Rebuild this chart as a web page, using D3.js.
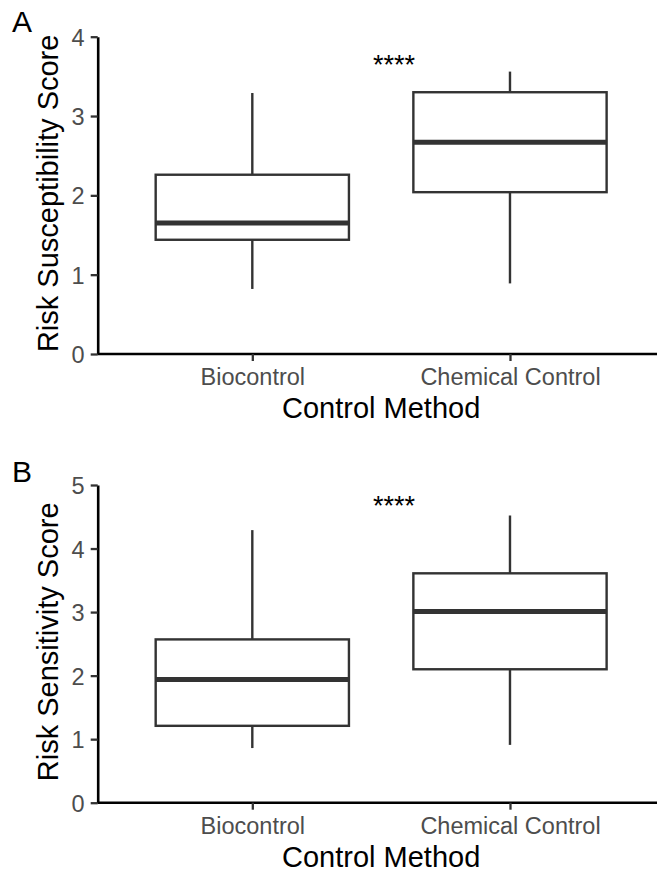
<!DOCTYPE html>
<html>
<head>
<meta charset="utf-8">
<script src="https://cdn.jsdelivr.net/npm/d3@7"></script>
<style>
  html, body { margin: 0; padding: 0; background: #fff; }
  svg { display: block; }
  text { font-family: "Liberation Sans", Arial, Helvetica, sans-serif; }
</style>
</head>
<body>
<svg id="chart" width="657" height="878"></svg>
<script>
// ---- Data ----
const categories = ["Biocontrol", "Chemical Control"];

// Panel A: Risk Susceptibility Score
const suscMin    = [0.82, 0.89];
const suscQ1     = [1.44, 2.04];
const suscMedian = [1.65, 2.67];
const suscQ3     = [2.26, 3.30];
const suscMax    = [3.29, 3.56];
const suscTicks  = [0, 1, 2, 3, 4];

// Panel B: Risk Sensitivity Score
const sensMin    = [0.86, 0.91];
const sensQ1     = [1.21, 2.10];
const sensMedian = [1.94, 3.01];
const sensQ3     = [2.57, 3.61];
const sensMax    = [4.29, 4.52];
const sensTicks  = [0, 1, 2, 3, 4, 5];

const sigLabel = "****";
const sigA = {x: 1.55, y: 3.53};
const sigB = {x: 1.55, y: 4.53};

const xTitle = "Control Method";

// ---- Drawing ----
const svg = d3.select("#chart");
const left = 97.7, rightRange = 664.6;

function panel(cfg) {
  const g = svg.append("g");
  const x = d3.scalePoint().domain(categories).range([left, rightRange]).padding(0.6);
  const y = d3.scaleLinear().domain([0, d3.max(cfg.ticks)]).range([cfg.bottom, cfg.top]);
  const step = x.step();
  const bw = step * 0.75;

  const rows = categories.map((c, i) => ({
    c, min: cfg.min[i], q1: cfg.q1[i], med: cfg.med[i], q3: cfg.q3[i], max: cfg.max[i]
  }));

  const boxes = g.selectAll("g.box").data(rows).join("g").attr("class", "box");
  boxes.append("line")
    .attr("x1", d => x(d.c)).attr("x2", d => x(d.c))
    .attr("y1", d => y(d.q3)).attr("y2", d => y(d.max))
    .attr("stroke", "#333").attr("stroke-width", 2.4);
  boxes.append("line")
    .attr("x1", d => x(d.c)).attr("x2", d => x(d.c))
    .attr("y1", d => y(d.q1)).attr("y2", d => y(d.min))
    .attr("stroke", "#333").attr("stroke-width", 2.4);
  boxes.append("rect")
    .attr("x", d => x(d.c) - bw / 2).attr("width", bw)
    .attr("y", d => y(d.q3)).attr("height", d => y(d.q1) - y(d.q3))
    .attr("fill", "#fff").attr("stroke", "#333").attr("stroke-width", 2.4);
  boxes.append("line")
    .attr("x1", d => x(d.c) - bw / 2).attr("x2", d => x(d.c) + bw / 2)
    .attr("y1", d => y(d.med)).attr("y2", d => y(d.med))
    .attr("stroke", "#333").attr("stroke-width", 5);

  // y axis
  const ya = g.append("g").attr("transform", `translate(${left},0)`)
    .call(d3.axisLeft(y).tickValues(cfg.ticks).tickFormat(d3.format("d")).tickSize(7).tickSizeOuter(0).tickPadding(6));
  ya.select(".domain").attr("stroke", "#000").attr("stroke-width", 2.6);
  ya.selectAll(".tick line").attr("stroke", "#333").attr("stroke-width", 2.3);
  ya.selectAll(".tick text").attr("fill", "#4d4d4d").attr("font-size", 23.5)
    .attr("dy", "0.36em");

  // x axis
  const xa = g.append("g").attr("transform", `translate(0,${cfg.bottom})`)
    .call(d3.axisBottom(x).tickSize(7).tickSizeOuter(0));
  xa.select(".domain").attr("stroke", "#000").attr("stroke-width", 2.6)
    .attr("d", `M${left},0H657`);
  xa.selectAll(".tick line").attr("stroke", "#333").attr("stroke-width", 2.3);
  xa.selectAll(".tick text").attr("fill", "#4d4d4d").attr("font-size", 23.5)
    .attr("y", 31).attr("dy", 0);

  // axis titles
  const xMid = (x(categories[0]) + x(categories[1])) / 2;
  g.append("text").attr("x", xMid).attr("y", cfg.bottom + 64)
    .attr("text-anchor", "middle").attr("font-size", 29).attr("fill", "#000")
    .text(xTitle);
  g.append("text")
    .attr("transform", `translate(58,${(cfg.top + cfg.bottom) / 2 - 2}) rotate(-90)`)
    .attr("text-anchor", "middle").attr("font-size", 29).attr("fill", "#000")
    .text(cfg.yTitle);

  // significance label
  const xs = d3.scaleLinear().domain([1, 2]).range([x(categories[0]), x(categories[1])]);
  g.append("text").attr("x", xs(cfg.sig.x)).attr("y", y(cfg.sig.y))
    .attr("text-anchor", "middle").attr("font-size", 27).attr("fill", "#000")
    .text(sigLabel);

  // panel letter
  g.append("text").attr("x", 12).attr("y", cfg.letterY)
    .attr("font-size", 30).attr("fill", "#000").text(cfg.letter);
}

panel({
  top: 36.7, bottom: 354, ticks: suscTicks,
  min: suscMin, q1: suscQ1, med: suscMedian, q3: suscQ3, max: suscMax,
  yTitle: "Risk Susceptibility Score", sig: sigA, letter: "A", letterY: 32
});
panel({
  top: 485, bottom: 802.7, ticks: sensTicks,
  min: sensMin, q1: sensQ1, med: sensMedian, q3: sensQ3, max: sensMax,
  yTitle: "Risk Sensitivity Score", sig: sigB, letter: "B", letterY: 481.7
});
</script>
</body>
</html>
